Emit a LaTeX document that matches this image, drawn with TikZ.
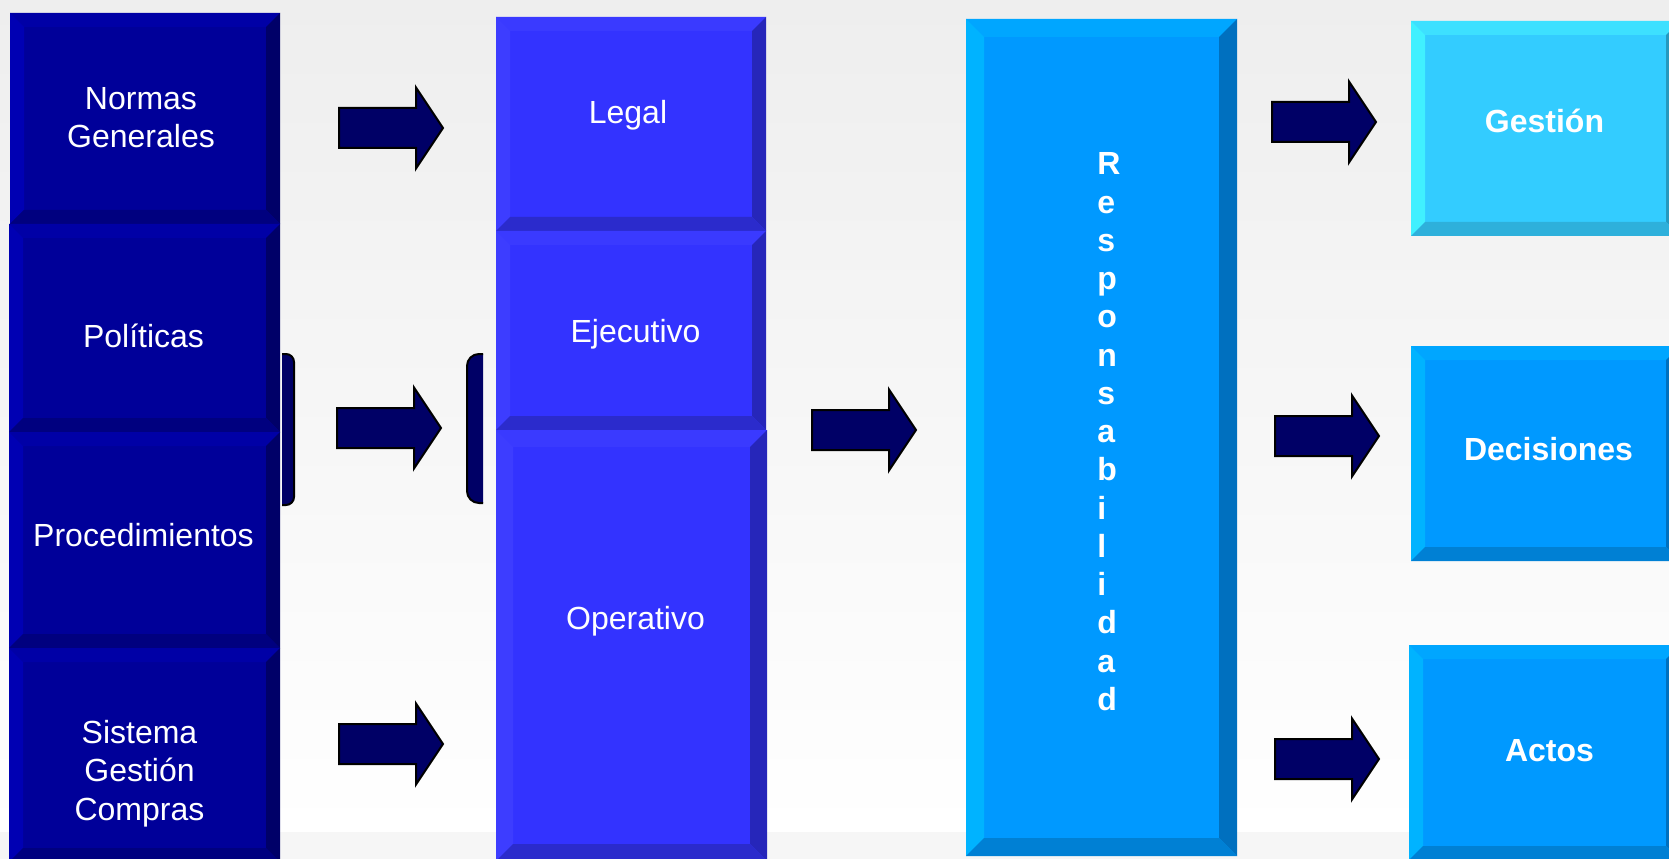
\documentclass[tikz,border=0pt]{standalone}
\usepackage{fontspec}
\setmainfont{Liberation Sans}
% dark column
\definecolor{dkface}{HTML}{000099}
\definecolor{dktop}{HTML}{0000A6}
\definecolor{dkleft}{HTML}{0000B3}
\definecolor{dkright}{HTML}{000068}
\definecolor{dkbot}{HTML}{00007F}
% middle column
\definecolor{mdface}{HTML}{3333FF}
\definecolor{mdtop}{HTML}{3A3AFF}
\definecolor{mdleft}{HTML}{3D3DFF}
\definecolor{mdright}{HTML}{2626BA}
\definecolor{mdbot}{HTML}{2B2BCC}
% sky blue
\definecolor{skface}{HTML}{0099FF}
\definecolor{sktop}{HTML}{00A6FF}
\definecolor{skleft}{HTML}{00B3FF}
\definecolor{skright}{HTML}{0070BF}
\definecolor{skbot}{HTML}{0080D4}
% cyan
\definecolor{cyface}{HTML}{33CCFF}
\definecolor{cytop}{HTML}{3DE0FF}
\definecolor{cyleft}{HTML}{40F0FF}
\definecolor{cyright}{HTML}{2699BF}
\definecolor{cybot}{HTML}{2EB0DB}
\definecolor{arrfill}{HTML}{000066}
\definecolor{bgtop}{HTML}{EEEEEE}
\definecolor{bgbot}{HTML}{F6F6F6}
% bevelled box: x1 y1 x2 y2 bevel colour-prefix
\newcommand\bevbox[6]{%
  \fill[#6face] (#1,#2) rectangle (#3,#4);
  \fill[#6top] (#1,#2) -- (#3,#2) -- (#3-#5,#2+#5) -- (#1+#5,#2+#5) -- cycle;
  \fill[#6left] (#1,#2) -- (#1+#5,#2+#5) -- (#1+#5,#4-#5) -- (#1,#4) -- cycle;
  \fill[#6right] (#3,#2) -- (#3,#4) -- (#3-#5,#4-#5) -- (#3-#5,#2+#5) -- cycle;
  \fill[#6bot] (#1,#4) -- (#3,#4) -- (#3-#5,#4-#5) -- (#1+#5,#4-#5) -- cycle;
}
% block arrow: start x, centre y
\newcommand\blkarrow[2]{%
  \draw[blockarr] (#1,#2-20) -- (#1+77,#2-20) -- (#1+77,#2-40.5) -- (#1+104,#2)
    -- (#1+77,#2+40.5) -- (#1+77,#2+20) -- (#1,#2+20) -- cycle;
}
\begin{document}
\begin{tikzpicture}[x=0.75pt,y=-0.75pt,
  lbl/.style={text=white, font=\fontsize{24}{28.7}\selectfont, align=center, inner sep=0pt},
  boldlbl/.style={lbl, font=\fontsize{24}{28.7}\selectfont\bfseries},
  blockarr/.style={fill=arrfill, draw=black, line width=1.5pt, line join=miter},
  brk/.style={fill=arrfill},
  brkline/.style={draw=black, line width=1.5pt}]
\useasboundingbox (0,0) rectangle (1669,859);
\clip (0,0) rectangle (1669,859);
% background
\shade[top color=bgtop, bottom color=white] (0,0) rectangle (1669,832);
\fill[bgbot] (0,832) rectangle (1669,859);

% left column
\bevbox{10}{13}{280}{224}{14}{dk}
\bevbox{9}{224}{280}{432}{14}{dk}
\bevbox{9}{432}{280}{648}{14}{dk}
\bevbox{9}{648}{280}{862}{14}{dk}
\node[lbl] (normas) at (141,117.5) {Normas\\Generales};
\node[lbl] (politicas) at (143.5,335.5) {Políticas};
\node[lbl] (proced) at (143.5,535) {Procedimientos};
\node[lbl] (sistema) at (139.5,773.5) {Sistema\\Gestión\\Compras};

% middle column
\bevbox{496}{17}{766}{231}{14}{md}
\bevbox{496}{231}{766}{430}{14}{md}
\bevbox{496}{430}{767}{861}{17}{md}
\node[lbl] (legal) at (628,115) {Legal};
\node[lbl] (ejec) at (635.5,334) {Ejecutivo};
\node[lbl] (oper) at (635.5,621) {Operativo};

% responsabilidad
\bevbox{966}{19}{1237}{856}{18}{sk}
\node[boldlbl, align=left, anchor=north west] (resp) at (1097,152.5)
  {R\\e\\s\\p\\o\\n\\s\\a\\b\\i\\l\\i\\d\\a\\d};

% right column
\bevbox{1411}{21}{1680}{236}{14}{cy}
\bevbox{1411}{346}{1680}{561}{14}{sk}
\bevbox{1409}{645}{1680}{860}{14}{sk}
\node[boldlbl] (gestion) at (1544.5,120.5) {Gestión};
\node[boldlbl] (decis) at (1548.5,449) {Decisiones};
\node[boldlbl] (actos) at (1549.5,751) {Actos};

% brackets
\fill[brk] (282,354) [rounded corners=6pt] -- (294,354) -- (294,505) [sharp corners] -- (282,505) -- cycle;
\draw[brkline] (282,354) [rounded corners=6pt] -- (294,354) -- (294,505) [sharp corners] -- (282,505);
\fill[brk] (483,354) [rounded corners=9pt] -- (467,354) -- (467,503) [sharp corners] -- (483,503) -- cycle;
\draw[brkline] (483,354) [rounded corners=9pt] -- (467,354) -- (467,503) [sharp corners] -- (483,503);

% block arrows
\blkarrow{339}{128}
\blkarrow{337}{428}
\blkarrow{339}{744}
\blkarrow{812}{430}
\blkarrow{1272}{122}
\blkarrow{1275}{436}
\blkarrow{1275}{759}
\end{tikzpicture}
\end{document}
